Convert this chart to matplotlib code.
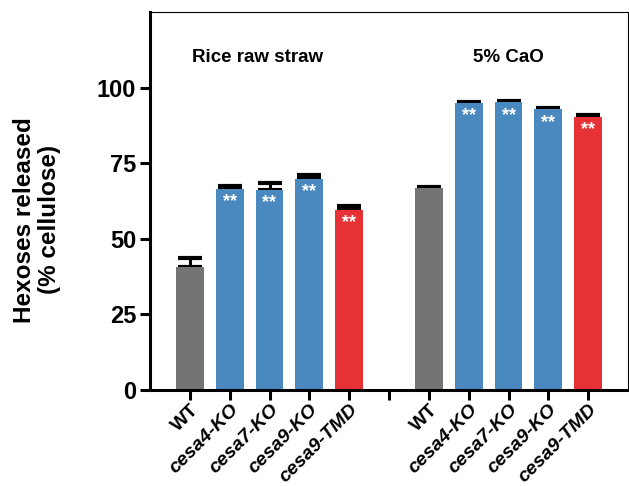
import matplotlib
matplotlib.use('Agg')
import matplotlib.pyplot as plt
import matplotlib.transforms as mtrans
import numpy as np

plt.rcParams['font.family'] = ['Liberation Sans', 'DejaVu Sans']

# values
labels = ['WT', 'cesa4-KO', 'cesa7-KO', 'cesa9-KO', 'cesa9-TMD']
raw_vals = [40.8, 66.6, 66.2, 69.8, 59.6]
raw_err = [2.9, 0.8, 2.2, 1.3, 1.4]
cao_vals = [66.8, 94.9, 95.2, 92.8, 90.4]
cao_err = [0.4, 0.4, 0.4, 0.5, 0.5]
groups = ['Rice raw straw', '5% CaO']
sig = ['', '**', '**', '**', '**']

colors = ['#747474', '#4a89c0', '#4a89c0', '#4a89c0', '#e63235']

fig = plt.figure(figsize=(6.29, 4.86), dpi=100)
ax = fig.add_axes([150/629, 96/486, 478/629, 378/486])

x_raw = np.arange(1, 6)
x_cao = np.arange(7, 12)

for xs, vals, errs in [(x_raw, raw_vals, raw_err), (x_cao, cao_vals, cao_err)]:
    ax.bar(xs, vals, width=0.7, color=colors, edgecolor='none', zorder=2)
    ax.errorbar(xs, vals, yerr=[np.zeros(len(errs)), errs], fmt='none',
                ecolor='black', elinewidth=2.2, capsize=8.5, capthick=3, zorder=1)
    for xi, v, s in zip(xs, vals, sig):
        if s:
            ax.text(xi, v - 1.5, s, color='white', ha='center', va='top',
                    fontsize=13, fontweight='bold', zorder=3)

ax.text(2.69, 110, groups[0], ha='center', va='center', fontsize=13.5, fontweight='bold')
ax.text(9.0, 110, groups[1], ha='center', va='center', fontsize=13.5, fontweight='bold')

ax.set_xlim(0, 12)
ax.set_ylim(0, 125)
ax.set_yticks([0, 25, 50, 75, 100])
ax.set_xticks(np.arange(1, 12))
ax.set_xticklabels(labels + [''] + labels)
shift = mtrans.ScaledTranslation(6/100, 0, fig.dpi_scale_trans)
for t in ax.get_xticklabels():
    t.set_rotation(45)
    t.set_ha('right')
    t.set_rotation_mode('anchor')
    t.set_fontsize(14)
    t.set_fontweight('bold')
    t.set_transform(t.get_transform() + shift)
    if t.get_text().startswith('cesa'):
        t.set_fontstyle('italic')

for lbl in ax.get_yticklabels():
    lbl.set_fontsize(17)
    lbl.set_fontweight('bold')

ax.tick_params(axis='both', direction='out', length=7, width=2.2)
ax.tick_params(axis='y', pad=3)
ax.tick_params(axis='x', pad=1)
ax.spines['left'].set_linewidth(2.2)
ax.spines['bottom'].set_linewidth(2.2)
ax.spines['top'].set_linewidth(0.8)
ax.spines['right'].set_linewidth(0.8)

ax.set_ylabel('Hexoses released\n(% cellulose)', fontsize=17.5, fontweight='bold', linespacing=1.1)
ax.yaxis.set_label_coords(-0.186, 0.45)

fig.savefig('out.png', dpi=100)
